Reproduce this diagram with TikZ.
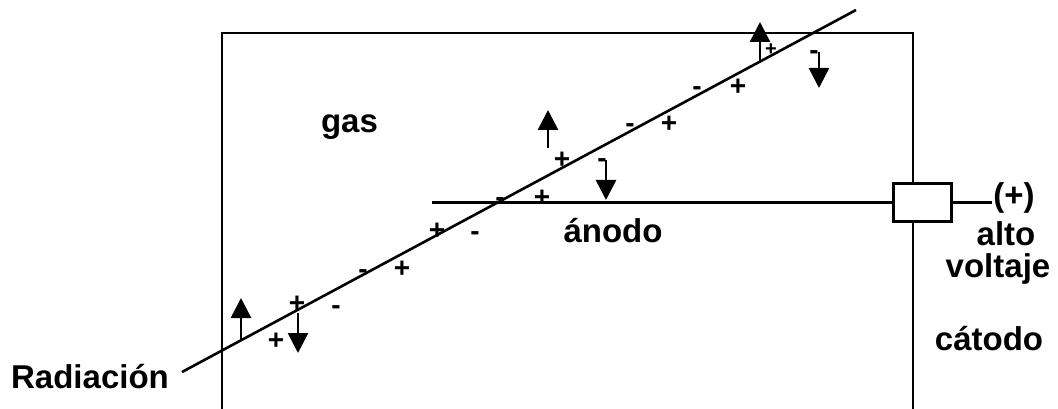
\documentclass[tikz,border=0pt]{standalone}
\usepackage{fontspec}
\setmainfont{Liberation Sans}
\usetikzlibrary{arrows.meta}
\begin{document}
\begin{tikzpicture}[x=1pt,y=-1pt,line width=2.6pt,
  lbl/.style={font=\bfseries\fontsize{33}{38}\selectfont,inner sep=0pt,anchor=base},
  sgn/.style={font=\bfseries\fontsize{28}{30}\selectfont,inner sep=0pt,anchor=base},
  pl/.style={sgn,yshift=-9.5pt},
  mi/.style={sgn,yshift=-7.5pt},
  uparr/.style={-{Triangle[width=20pt,length=20pt]},line width=2.6pt}]
\useasboundingbox (0,0) rectangle (1058,409);
% chamber
\coordinate (TL) at (222,33);
\coordinate (TR) at (913,33);
\coordinate (BL) at (222,409);
\coordinate (BR) at (913,409);
\node[draw,line width=2.6pt,minimum width=58pt,minimum height=38pt,inner sep=0pt] (hv) at (922.5,202.5) {};
\draw (BL) -- (TL) -- (TR) -- (TR |- hv.north);
\draw (hv.south -| BR) -- (BR);
% anode wire
\coordinate (A0) at (432,202.5);
\draw (A0) -- (hv.west);
% labels
\node[lbl,anchor=base west] (plus) at (992,206) {(+)};
\draw (hv.east) -- (hv.east -| plus.west);
\node[lbl] (alto) at (1006,245) {alto};
\node[lbl] (volt) at (998,277) {voltaje};
\node[lbl] (cat) at (989,350) {cátodo};
\node[lbl] (gas) at (349.5,133) {gas};
\node[lbl] (anodo) at (613,242) {ánodo};
\node[lbl] (rad) at (90,388) {Radiación};
% radiation track
\coordinate (R0) at (182,372);
\coordinate (R1) at (856,10);
\draw (R0) -- (R1);
% electrons / ions arrows
\coordinate (u1a) at (241,340); \coordinate (u1b) at (241,298);
\coordinate (d1a) at (298,313); \coordinate (d1b) at (298,353);
\coordinate (u2a) at (548,148); \coordinate (u2b) at (548,110);
\coordinate (d2a) at (606,160); \coordinate (d2b) at (606,200);
\coordinate (u3a) at (760,61);  \coordinate (u3b) at (760,22);
\coordinate (d3a) at (819,52);  \coordinate (d3b) at (819,88);
\draw[uparr] (u1a) -- (u1b);
\draw[uparr] (d1a) -- (d1b);
\draw[uparr] (u2a) -- (u2b);
\draw[uparr] (d2a) -- (d2b);
\draw[uparr] (u3a) -- (u3b);
\draw[uparr] (d3a) -- (d3b);
% charges
\node[pl] (p1) at (276,340) {+};
\node[pl] (p2) at (297,303) {+};
\node[mi] (m1) at (336,307) {-};
\node[mi] (m2) at (363,271) {-};
\node[pl] (p3) at (402,268) {+};
\node[pl] (p4) at (437,230) {+};
\node[mi] (m3) at (475,233) {-};
\node[mi] (m4) at (500,199) {-};
\node[pl] (p5) at (542,197) {+};
\node[pl] (p6) at (562,159) {+};
\node[mi] (m5) at (602,160) {-};
\node[mi] (m6) at (630,125) {-};
\node[pl] (p7) at (669,123) {+};
\node[mi] (m7) at (697,88) {-};
\node[pl] (p8) at (738,86) {+};
\node[pl,font=\bfseries\fontsize{20}{22}\selectfont,yshift=2.5pt] (p9) at (771,49) {+};
\node[mi] (m8) at (814,52) {-};
\end{tikzpicture}
\end{document}
